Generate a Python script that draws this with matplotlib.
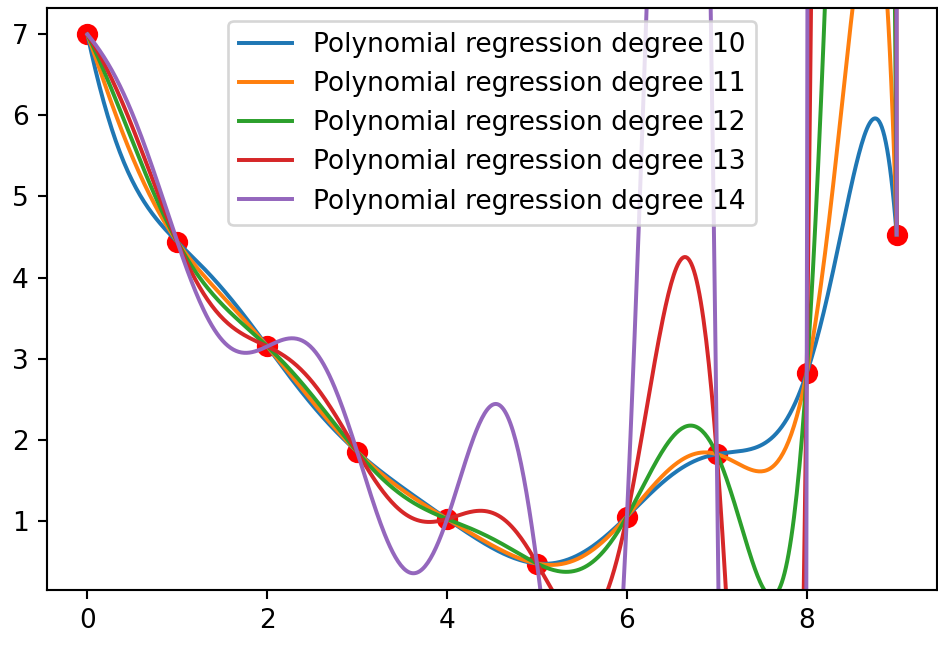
import warnings
import numpy as np
import matplotlib.pyplot as plt

warnings.simplefilter("ignore")

# sample points
x = np.arange(10)
y = np.array([7.0, 4.44, 3.15, 1.85, 1.02, 0.47, 1.05, 1.82, 2.82, 4.53])
degrees = [10, 11, 12, 13, 14]

xs = np.linspace(0, 9, 600)


def poly_features(v, degree):
    return np.vstack([v ** p for p in range(1, degree + 1)]).T.astype(float)


def fit_predict(degree):
    # linear regression on polynomial features (centered, min-norm lstsq)
    X = poly_features(x, degree)
    X_mean = X.mean(axis=0)
    y_mean = y.mean()
    coef = np.linalg.lstsq(X - X_mean, y - y_mean, rcond=None)[0]
    intercept = y_mean - X_mean @ coef
    return poly_features(xs, degree) @ coef + intercept


dpi = 190
fig = plt.figure(figsize=(939 / dpi, 645 / dpi), dpi=dpi)
ax = fig.add_axes([0.050, 0.0853, 0.948, 0.9023])

ax.scatter(x, y, color="red", s=50)
ylim = ax.get_ylim()
for d in degrees:
    ax.plot(xs, fit_predict(d), label=f"Polynomial regression degree {d}")
ax.set_ylim(ylim)
ax.legend(loc="upper center")

plt.savefig("out.png", dpi=dpi)
